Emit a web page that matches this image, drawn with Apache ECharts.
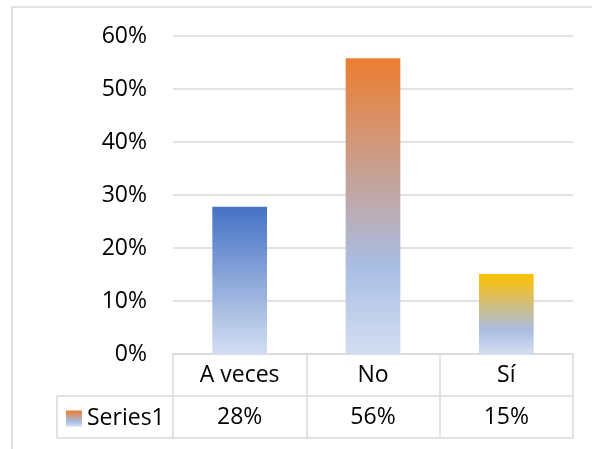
<!DOCTYPE html>
<html>
<head>
<meta charset="utf-8">
<script src="https://cdn.jsdelivr.net/npm/echarts@6/dist/echarts.min.js"></script>
<style>
html,body{margin:0;padding:0;background:#fff;}
#c{width:592px;height:449px;}
</style>
</head>
<body>
<div id="c"></div>
<script>
// ---- data ----
const categories = ['A veces', 'No', 'Sí'];
const values = [0.278, 0.558, 0.151];
const seriesName = 'Series1';
const yTicks = { min: 0, max: 0.6, interval: 0.1 };

// ---- styles ----
const FONT = 'Open Sans';
const FS = 23;
const LINE = '#d9d9d9';
const topColors = ['#4472c4', '#ed7d31', '#ffc000'];
function grad(top) {
  return new echarts.graphic.LinearGradient(0, 0, 0, 1, [
    { offset: 0, color: top },
    { offset: 0.7, color: '#a9bde3' },
    { offset: 1, color: '#d3def2' }
  ]);
}
const W = 592, H = 449;
const G = { left: 173, right: 19, top: 36, bottom: 95 };
const ROW = 42;
const tableTop = H - G.bottom;
const rowSep = tableTop + ROW;
const tableBottom = tableTop + 2 * ROW;
const seriesCellLeft = 57;
const pct = v => Math.round(v * 100) + '%';

const chart = echarts.init(document.getElementById('c'), null, { renderer: 'canvas' });
chart.setOption({
  animation: false,
  backgroundColor: '#fff',
  textStyle: { fontFamily: FONT },
  grid: { left: G.left, right: G.right, top: G.top, bottom: G.bottom, containLabel: false },
  legend: {
    data: [seriesName],
    left: seriesCellLeft + 9,
    top: rowSep + 11,
    padding: 0,
    icon: 'rect',
    itemWidth: 16,
    itemHeight: 16,
    itemGap: 5,
    selectedMode: false,
    textStyle: { fontFamily: FONT, fontSize: FS, color: '#000', padding: [0, 0, 0, 0] }
  },
  xAxis: {
    type: 'category',
    data: categories,
    axisLine: { show: true, lineStyle: { color: LINE, width: 1.5 } },
    axisTick: { show: true, length: 2 * ROW, lineStyle: { color: LINE, width: 1.5 } },
    splitLine: { show: false },
    axisLabel: {
      margin: 0,
      interval: 0,
      formatter: (v, i) => '{c|' + v + '}\n{c|' + pct(values[i]) + '}',
      rich: { c: { fontFamily: FONT, fontSize: FS, color: '#000', height: ROW, lineHeight: ROW } }
    }
  },
  yAxis: {
    type: 'value',
    min: yTicks.min, max: yTicks.max, interval: yTicks.interval,
    axisLine: { show: false },
    axisTick: { show: false },
    splitLine: { show: true, lineStyle: { color: LINE, width: 1.5 } },
    axisLabel: {
      margin: 26,
      fontFamily: FONT, fontSize: FS, color: '#000',
      formatter: v => Math.round(v * 100) + '%'
    }
  },
  series: [{
    name: seriesName,
    type: 'bar',
    barWidth: '41%',
    itemStyle: { color: grad(topColors[1]) },
    data: values.map((v, i) => ({ value: v, itemStyle: { color: grad(topColors[i]) } }))
  }],
  graphic: [
    { type: 'rect', silent: true, z: -1,
      shape: { x: 12, y: 7, width: W + 20, height: H + 20 },
      style: { fill: 'none', stroke: LINE, lineWidth: 1.5 } },
    { type: 'line', silent: true,
      shape: { x1: seriesCellLeft, y1: rowSep, x2: W - G.right, y2: rowSep },
      style: { stroke: LINE, lineWidth: 1.5 } },
    { type: 'line', silent: true,
      shape: { x1: seriesCellLeft, y1: tableBottom, x2: W - G.right, y2: tableBottom },
      style: { stroke: LINE, lineWidth: 1.5 } },
    { type: 'line', silent: true,
      shape: { x1: seriesCellLeft, y1: rowSep, x2: seriesCellLeft, y2: tableBottom },
      style: { stroke: LINE, lineWidth: 1.5 } }
  ]
});
</script>
</body>
</html>
